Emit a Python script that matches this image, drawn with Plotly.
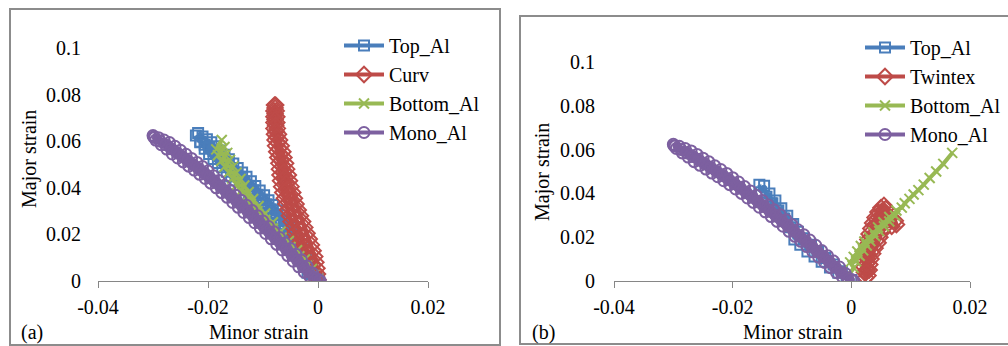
import plotly.graph_objects as go

W, H = 1008, 346
FONT = "Liberation Serif"

# ---------------- data ----------------
x_ticks = [-0.04, -0.02, 0, 0.02]
x_ticktext = ["-0.04", "-0.02", "0", "0.02"]
y_ticks = [0, 0.02, 0.04, 0.06, 0.08, 0.1]
y_ticktext = ["0", "0.02", "0.04", "0.06", "0.08", "0.1"]

# Panel (a) -- Top_Al
topA_x = [-0.0218, -0.0210, -0.0202, -0.0194, -0.0186, -0.0178, -0.0170, -0.0162, -0.0154, -0.0146,
          -0.0138, -0.0130, -0.0122, -0.0114, -0.0106, -0.0098, -0.0090, -0.0082, -0.0074, -0.0066,
          -0.0058, -0.0050, -0.0043, -0.0036, -0.0029, -0.0022, -0.0015, -0.0008, 0.0000,
          -0.0004, -0.0012, -0.0019, -0.0026, -0.0033, -0.0040, -0.0047, -0.0054, -0.0062, -0.0070,
          -0.0078, -0.0086, -0.0094, -0.0102, -0.0110, -0.0118, -0.0126, -0.0134, -0.0142, -0.0150,
          -0.0158, -0.0166, -0.0174, -0.0182, -0.0190, -0.0198, -0.0206, -0.0214, -0.0222,
          -0.0214, -0.0206, -0.0198, -0.0190, -0.0182, -0.0174, -0.0166, -0.0158, -0.0150, -0.0142,
          -0.0134, -0.0126, -0.0118, -0.0110, -0.0102, -0.0094, -0.0086, -0.0078, -0.0070, -0.0062,
          -0.0054, -0.0047, -0.0040, -0.0033, -0.0026, -0.0019, -0.0012, -0.0004]
topA_y = [0.0635, 0.0620, 0.0608, 0.0595, 0.0578, 0.0560, 0.0542, 0.0523, 0.0504, 0.0485,
          0.0466, 0.0447, 0.0428, 0.0408, 0.0388, 0.0368, 0.0347, 0.0326, 0.0304, 0.0281,
          0.0257, 0.0230, 0.0200, 0.0168, 0.0136, 0.0104, 0.0072, 0.0040, 0.0008,
          0.0000, 0.0010, 0.0035, 0.0062, 0.0090, 0.0118, 0.0146, 0.0172, 0.0198, 0.0225,
          0.0250, 0.0273, 0.0294, 0.0314, 0.0334, 0.0354, 0.0374, 0.0393, 0.0412, 0.0431,
          0.0450, 0.0469, 0.0488, 0.0506, 0.0524, 0.0545, 0.0568, 0.0595, 0.0625,
          0.0598, 0.0585, 0.0573, 0.0558, 0.0541, 0.0523, 0.0504, 0.0485, 0.0466, 0.0447,
          0.0428, 0.0409, 0.0390, 0.0370, 0.0350, 0.0329, 0.0308, 0.0287, 0.0264, 0.0240,
          0.0215, 0.0187, 0.0157, 0.0125, 0.0093, 0.0061, 0.0030, 0.0005]

# Panel (a) -- Curv
curv_x = [-0.0079, -0.0080, -0.0080, -0.0080, -0.0080, -0.0079, -0.0078, -0.0077, -0.0075, -0.0073,
          -0.0071, -0.0070, -0.0069, -0.0068, -0.0066, -0.0064, -0.0061, -0.0058, -0.0055, -0.0052,
          -0.0049, -0.0046, -0.0043, -0.0040, -0.0037, -0.0033, -0.0028, -0.0022, -0.0015, -0.0008,
          -0.0002,
          0.0000, -0.0001, -0.0002, -0.0004, -0.0006, -0.0009, -0.0012, -0.0016, -0.0020, -0.0024,
          -0.0028, -0.0032, -0.0036, -0.0040, -0.0043, -0.0046, -0.0049, -0.0052, -0.0054, -0.0057,
          -0.0059, -0.0062, -0.0064, -0.0067, -0.0070, -0.0072, -0.0074, -0.0075, -0.0075, -0.0076,
          -0.0077,
          -0.0078, -0.0078, -0.0078, -0.0077, -0.0076, -0.0075, -0.0073, -0.0071, -0.0069, -0.0067,
          -0.0064, -0.0062, -0.0060, -0.0058, -0.0056, -0.0053, -0.0050, -0.0047, -0.0044, -0.0040,
          -0.0037, -0.0033, -0.0030, -0.0026, -0.0023, -0.0019, -0.0015, -0.0010, -0.0006, -0.0003]
curv_y = [0.0755, 0.0730, 0.0705, 0.0680, 0.0655, 0.0630, 0.0605, 0.0580, 0.0555, 0.0530,
          0.0505, 0.0480, 0.0455, 0.0430, 0.0405, 0.0380, 0.0355, 0.0330, 0.0305, 0.0280,
          0.0255, 0.0230, 0.0205, 0.0180, 0.0155, 0.0130, 0.0105, 0.0080, 0.0055, 0.0030,
          0.0005,
          0.0005, 0.0030, 0.0055, 0.0080, 0.0105, 0.0130, 0.0155, 0.0180, 0.0205, 0.0230,
          0.0255, 0.0280, 0.0305, 0.0330, 0.0355, 0.0380, 0.0405, 0.0430, 0.0455, 0.0480,
          0.0505, 0.0530, 0.0555, 0.0580, 0.0605, 0.0630, 0.0655, 0.0680, 0.0705, 0.0730,
          0.0755,
          0.0743, 0.0718, 0.0693, 0.0668, 0.0643, 0.0618, 0.0593, 0.0568, 0.0543, 0.0518,
          0.0493, 0.0468, 0.0443, 0.0418, 0.0393, 0.0368, 0.0343, 0.0318, 0.0293, 0.0268,
          0.0243, 0.0218, 0.0193, 0.0168, 0.0143, 0.0118, 0.0093, 0.0068, 0.0043, 0.0018]

# Panel (a) -- Bottom_Al
botA_x = [-0.0175, -0.0185, -0.0170, -0.0182, -0.0165, -0.0176, -0.0160, -0.0170, -0.0154, -0.0163,
          -0.0148, -0.0156, -0.0141, -0.0148, -0.0134, -0.0140, -0.0126, -0.0131, -0.0118, -0.0122,
          -0.0108, -0.0110, -0.0096, -0.0096, -0.0082, -0.0082, -0.0068, -0.0066, -0.0053, -0.0050,
          -0.0038, -0.0034, -0.0024, -0.0020, -0.0011, -0.0008, 0.0]
botA_y = [0.0605, 0.0565, 0.0575, 0.0540, 0.0550, 0.0515, 0.0520, 0.0490, 0.0492, 0.0465,
          0.0465, 0.0440, 0.0438, 0.0412, 0.0410, 0.0385, 0.0382, 0.0358, 0.0352, 0.0330,
          0.0322, 0.0300, 0.0290, 0.0262, 0.0252, 0.0225, 0.0212, 0.0186, 0.0172, 0.0146,
          0.0132, 0.0106, 0.0092, 0.0066, 0.0052, 0.0026, 0.0008]

# Mono_Al (same in both panels)
mono_x = [-0.0300, -0.0290, -0.0280, -0.0270, -0.0260, -0.0250, -0.0240, -0.0230, -0.0220, -0.0210,
          -0.0200, -0.0190, -0.0180, -0.0170, -0.0160, -0.0150, -0.0140, -0.0130, -0.0120, -0.0110,
          -0.0100, -0.0090, -0.0080, -0.0070, -0.0060, -0.0050, -0.0040, -0.0030, -0.0020, -0.0010,
          0.0000,
          0.0004, -0.0005, -0.0015, -0.0025, -0.0035, -0.0045, -0.0055, -0.0065, -0.0075, -0.0085,
          -0.0095, -0.0105, -0.0115, -0.0125, -0.0135, -0.0145, -0.0155, -0.0165, -0.0175, -0.0185,
          -0.0195, -0.0205, -0.0215, -0.0225, -0.0235, -0.0245, -0.0255, -0.0265, -0.0275, -0.0285,
          -0.0295, -0.0299,
          -0.0297, -0.0287, -0.0277, -0.0267, -0.0257, -0.0247, -0.0237, -0.0227, -0.0217, -0.0207,
          -0.0197, -0.0187, -0.0177, -0.0167, -0.0157, -0.0147, -0.0137, -0.0127, -0.0117, -0.0107,
          -0.0097, -0.0087, -0.0077, -0.0067, -0.0057, -0.0047, -0.0037, -0.0027, -0.0017, -0.0007,
          0.0003]
mono_y = [0.0624, 0.0615, 0.0605, 0.0594, 0.0578, 0.0561, 0.0544, 0.0526, 0.0509, 0.0491,
          0.0472, 0.0452, 0.0431, 0.0411, 0.0390, 0.0368, 0.0347, 0.0325, 0.0303, 0.0280,
          0.0257, 0.0234, 0.0211, 0.0187, 0.0163, 0.0139, 0.0115, 0.0091, 0.0064, 0.0034,
          0.0007,
          0.0000, 0.0004, 0.0019, 0.0038, 0.0061, 0.0085, 0.0109, 0.0133, 0.0157, 0.0181,
          0.0204, 0.0227, 0.0250, 0.0272, 0.0294, 0.0316, 0.0337, 0.0359, 0.0379, 0.0400,
          0.0420, 0.0440, 0.0458, 0.0476, 0.0493, 0.0511, 0.0528, 0.0545, 0.0566, 0.0585,
          0.0605, 0.0618,
          0.0616, 0.0600, 0.0585, 0.0568, 0.0552, 0.0535, 0.0518, 0.0500, 0.0483, 0.0464,
          0.0445, 0.0425, 0.0404, 0.0384, 0.0362, 0.0341, 0.0319, 0.0297, 0.0275, 0.0252,
          0.0229, 0.0206, 0.0183, 0.0159, 0.0135, 0.0111, 0.0087, 0.0063, 0.0039, 0.0016,
          0.0003]

# Panel (b) -- Top_Al
topB_x = [-0.0155, -0.0152, -0.0147, -0.0143, -0.0138, -0.0133, -0.0128, -0.0123, -0.0118, -0.0113,
          -0.0108, -0.0103, -0.0098, -0.0096, -0.0090, -0.0086, -0.0080, -0.0074, -0.0068, -0.0062,
          -0.0056, -0.0050, -0.0044, -0.0036, -0.0030, -0.0022, -0.0016, -0.0008, 0.0]
topB_y = [0.0440, 0.0405, 0.0435, 0.0385, 0.0400, 0.0355, 0.0368, 0.0322, 0.0332, 0.0285,
          0.0298, 0.0245, 0.0260, 0.0190, 0.0225, 0.0165, 0.0195, 0.0135, 0.0165, 0.0112,
          0.0135, 0.0088, 0.0105, 0.0062, 0.0075, 0.0038, 0.0045, 0.0015, 0.0004]

# Panel (b) -- Twintex
twin_x = [0.0024, 0.0022, 0.0021, 0.0021, 0.0022, 0.0024, 0.0026, 0.0028, 0.0030, 0.0033,
          0.0036, 0.0040, 0.0045, 0.0050, 0.0055,
          0.0058, 0.0060, 0.0066, 0.0074, 0.0076, 0.0068, 0.0058, 0.0052, 0.0048, 0.0045,
          0.0040, 0.0036, 0.0033, 0.0031, 0.0030, 0.0028,
          0.0026, 0.0027, 0.0030, 0.0034, 0.0040, 0.0046, 0.0052,
          0.0056, 0.0050, 0.0044, 0.0038, 0.0033, 0.0029, 0.0026, 0.0025]
twin_y = [0.0015, 0.0040, 0.0065, 0.0090, 0.0115, 0.0140, 0.0165, 0.0190, 0.0215, 0.0240,
          0.0265, 0.0290, 0.0315, 0.0335, 0.0345,
          0.0330, 0.0305, 0.0290, 0.0275, 0.0258, 0.0250, 0.0250, 0.0225, 0.0200, 0.0175,
          0.0150, 0.0125, 0.0100, 0.0075, 0.0050, 0.0025,
          0.0050, 0.0100, 0.0150, 0.0200, 0.0250, 0.0290, 0.0320,
          0.0300, 0.0270, 0.0235, 0.0195, 0.0160, 0.0120, 0.0080, 0.0040]

# Panel (b) -- Bottom_Al
botB_x = [-0.0004, 0.0004, -0.0002, 0.0008, 0.0004, 0.0014, 0.0010, 0.0020, 0.0016, 0.0026,
          0.0022, 0.0032, 0.0030, 0.0040, 0.0037, 0.0047, 0.0045, 0.0055, 0.0054, 0.0064,
          0.0064, 0.0074, 0.0076, 0.0085, 0.0090, 0.0098, 0.0105, 0.0113, 0.0122, 0.0132,
          0.0143, 0.0155, 0.0170]
botB_y = [0.0030, 0.0060, 0.0085, 0.0090, 0.0110, 0.0115, 0.0135, 0.0140, 0.0160, 0.0162,
          0.0180, 0.0182, 0.0200, 0.0205, 0.0222, 0.0228, 0.0245, 0.0250, 0.0268, 0.0272,
          0.0292, 0.0298, 0.0322, 0.0335, 0.0355, 0.0375, 0.0395, 0.0415, 0.0440, 0.0470,
          0.0500, 0.0535, 0.0585]

BLUE, RED, GREEN, PURPLE = "#4A7EBB", "#BE4B48", "#98B954", "#7D60A0"
GRAY = "#868686"

fig = go.Figure()

def add(xs, ys, name, color, symbol, size, xa, ya, legend):
    fig.add_trace(go.Scatter(
        x=xs, y=ys, name=name, mode="lines+markers",
        line=dict(color=color, width=4),
        marker=dict(symbol=symbol, size=size, color=color,
                    line=dict(color=color, width=2)),
        xaxis=xa, yaxis=ya, legend=legend))

add(topA_x, topA_y, "Top_Al", BLUE, "square-open", 10, "x", "y", "legend")
add(curv_x, curv_y, "Curv", RED, "diamond-open", 12, "x", "y", "legend")
add(botA_x, botA_y, "Bottom_Al", GREEN, "x-thin", 10, "x", "y", "legend")
add(mono_x, mono_y, "Mono_Al", PURPLE, "circle-open", 11, "x", "y", "legend")

add(topB_x, topB_y, "Top_Al", BLUE, "square-open", 10, "x2", "y2", "legend2")
add(twin_x, twin_y, "Twintex", RED, "diamond-open", 12, "x2", "y2", "legend2")
add(botB_x, botB_y, "Bottom_Al", GREEN, "x-thin", 10, "x2", "y2", "legend2")
add(mono_x, mono_y, "Mono_Al", PURPLE, "circle-open", 11, "x2", "y2", "legend2")

tickfont = dict(family=FONT, size=20, color="#000")

def xax(domain, anchor):
    return dict(domain=domain, range=[-0.04, 0.02], anchor=anchor,
                showline=True, linecolor=GRAY, linewidth=1,
                ticks="outside", ticklen=6, tickcolor=GRAY, tickwidth=1,
                tickvals=x_ticks, ticktext=x_ticktext, tickfont=tickfont,
                ticklabelstandoff=2,
                showgrid=False, zeroline=False)

def ylab(domain, anchor, standoff):
    return dict(domain=domain, range=[0, 0.1], anchor=anchor,
                showline=False, ticks="", tickvals=y_ticks, ticktext=y_ticktext,
                tickfont=tickfont, ticklabelstandoff=standoff,
                showgrid=False, zeroline=False)

def yline(over, pos):
    return dict(overlaying=over, anchor="free", position=pos, side="left",
                range=[0, 0.1], showline=True, linecolor=GRAY, linewidth=1,
                ticks="outside", ticklen=6, tickcolor=GRAY, tickwidth=1,
                tickvals=y_ticks, showticklabels=False,
                showgrid=False, zeroline=False)

yA = [1 - 281 / H, 1 - 48 / H]
yB = [1 - 281 / H, 1 - 62 / H]
txt = dict(family=FONT, size=20, color="#000")

def note(text, px, py, angle=0):
    return dict(text=text, x=px / W, y=1 - py / H, xref="paper", yref="paper",
                xanchor="center", yanchor="middle", textangle=angle,
                showarrow=False, font=txt)

fig.update_layout(
    width=W, height=H,
    margin=dict(l=0, r=0, t=0, b=0, autoexpand=False),
    paper_bgcolor="white", plot_bgcolor="rgba(0,0,0,0)",
    font=txt,
    xaxis=xax([98 / W, 428 / W], "y"),
    yaxis=ylab(yA, "x", 16),
    yaxis3=yline("y", 318 / W),
    xaxis2=xax([614 / W, 970 / W], "y2"),
    yaxis2=ylab(yB, "x2", 18),
    yaxis4=yline("y2", 851 / W),
    legend=dict(x=339 / W, y=1 - 26 / H, xanchor="left", yanchor="top",
                bgcolor="rgba(0,0,0,0)", font=txt, tracegroupgap=0, itemwidth=40),
    legend2=dict(x=860 / W, y=1 - 28 / H, xanchor="left", yanchor="top",
                 bgcolor="rgba(0,0,0,0)", font=txt, tracegroupgap=0, itemwidth=40),
    shapes=[
        dict(type="rect", xref="paper", yref="paper",
             x0=10 / W, x1=500 / W, y0=1 / H, y1=1 - 9 / H,
             line=dict(color="#8C8C8C", width=2), fillcolor="rgba(0,0,0,0)", layer="below"),
        dict(type="rect", xref="paper", yref="paper",
             x0=520 / W, x1=1.02, y0=2 / H, y1=1 - 16 / H,
             line=dict(color="#8C8C8C", width=2), fillcolor="rgba(0,0,0,0)", layer="below"),
    ],
    annotations=[
        note("Major strain", 29, 159, -90),
        note("Minor strain", 258, 332),
        note("(a)", 32, 332),
        note("Major strain", 542, 172, -90),
        note("Minor strain", 792, 332),
        note("(b)", 543, 332),
    ],
)

fig.write_html("out.html")
